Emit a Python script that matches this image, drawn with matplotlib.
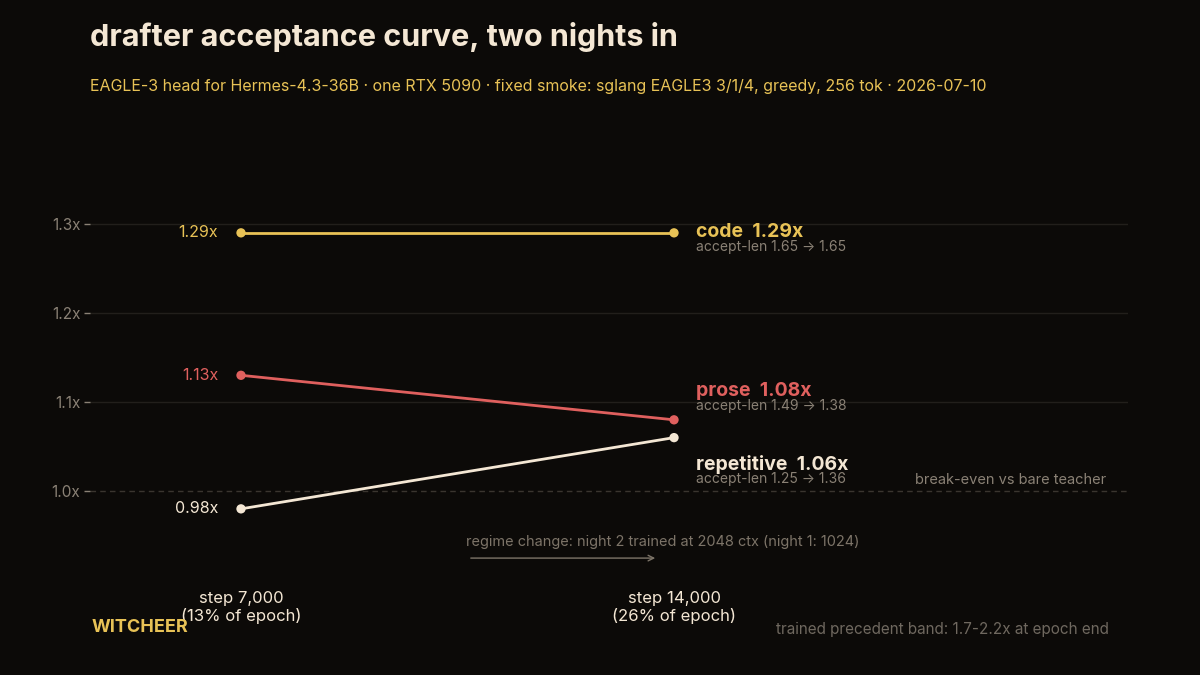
import matplotlib.pyplot as plt

plt.rcParams['font.family'] = ['Inter', 'DejaVu Sans']

# ------------------ Data ------------------
steps = [7000, 14000]
step_labels = ["step 7,000\n(13% of epoch)", "step 14,000\n(26% of epoch)"]
names = ["code", "prose", "repetitive"]
speedup = {
    "code": [1.29, 1.29],
    "prose": [1.13, 1.08],
    "repetitive": [0.98, 1.06],
}
accept_len = {
    "code": [1.65, 1.65],
    "prose": [1.49, 1.38],
    "repetitive": [1.25, 1.36],
}
colors = {"code": "#e8c256", "prose": "#e0605e", "repetitive": "#f4e7d4"}
label_y = {"code": 1.29, "prose": 1.1115, "repetitive": 1.0295}

bg = "#0c0a08"
gray = "#8a8175"

fig = plt.figure(figsize=(12, 6.75), dpi=100, facecolor=bg)
ax = fig.add_axes([0.075, 0.167, 0.865, 0.554])
ax.set_facecolor(bg)
ax.set_xlim(4559, 21339)
ax.set_ylim(0.92, 1.34)

for s in ax.spines.values():
    s.set_visible(False)

ax.set_yticks([1.0, 1.1, 1.2, 1.3])
ax.set_yticklabels(["1.0x", "1.1x", "1.2x", "1.3x"])
ax.tick_params(axis="y", colors=gray, labelsize=11, length=4, width=1, pad=3)
for y in [1.1, 1.2, 1.3]:
    ax.axhline(y, color="#221f1b", lw=1, zorder=0)
ax.axhline(1.0, color="#3a352f", lw=1, ls=(0, (4, 3)), zorder=0)

ax.set_xticks(steps)
ax.set_xticklabels(step_labels)
ax.tick_params(axis="x", colors="#f4e7d4", labelsize=12, length=0, pad=20.5)

# ------------------ Lines ------------------
for n in names:
    c = colors[n]
    ax.plot(steps, speedup[n], color=c, lw=2, zorder=3)
    ax.scatter(steps, speedup[n], color=c, s=45, zorder=4, edgecolor="none")
    ax.annotate(f"{speedup[n][0]:.2f}x", (steps[0], speedup[n][0]), xytext=(-16.5, 0),
                textcoords="offset points", ha="right", va="center", color=c, fontsize=11.5)
    ax.annotate(f"{n}  {speedup[n][1]:.2f}x", (steps[1], label_y[n]), xytext=(16, 0.5),
                textcoords="offset points", ha="left", va="center", color=c,
                fontsize=14, fontweight="bold")
    ax.annotate(f"accept-len {accept_len[n][0]:.2f} \u2192 {accept_len[n][1]:.2f}",
                (steps[1], label_y[n]), xytext=(16, -10.5), textcoords="offset points",
                ha="left", va="center", color=gray, fontsize=10)

ax.text(20981, 1.005, "break-even vs bare teacher", ha="right", va="bottom",
        color=gray, fontsize=10.5)

# regime change note
ax.text(10637, 0.9427, "regime change: night 2 trained at 2048 ctx (night 1: 1024)",
        ha="left", va="center", color="#7d7468", fontsize=10.45)
ax.annotate("", xy=(13741, 0.9247), xytext=(10670, 0.9247),
            arrowprops=dict(arrowstyle="->", color="#7d7468", lw=1))

# ------------------ Titles ------------------
fig.text(0.075, 0.945, "drafter acceptance curve, two nights in", color="#f4e7d4",
         fontsize=22, fontweight="bold", ha="left", va="center")
fig.text(0.075, 0.872, "EAGLE-3 head for Hermes-4.3-36B \u00b7 one RTX 5090 \u00b7 fixed smoke: "
         "sglang EAGLE3 3/1/4, greedy, 256 tok \u00b7 2026-07-10",
         color="#e8c256", fontsize=11.5, ha="left", va="center")
fig.text(0.076, 0.07, "WITCHEER", color="#e8c256", fontsize=13, fontweight="bold",
         ha="left", va="center")
fig.text(0.924, 0.067, "trained precedent band: 1.7-2.2x at epoch end", color="#6f685f",
         fontsize=11, ha="right", va="center")

fig.savefig("out.png", dpi=100, facecolor=bg)
